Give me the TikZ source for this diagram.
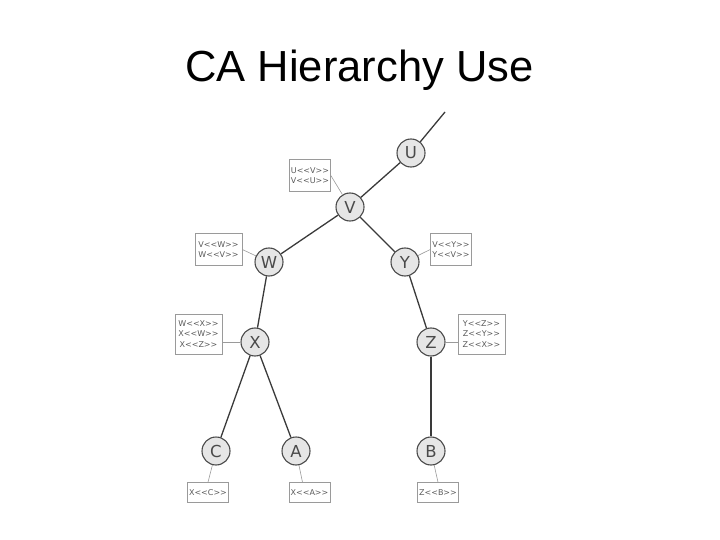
\documentclass[tikz,border=0pt]{standalone}
\usepackage{fontspec}
\setmainfont{Liberation Sans}
\newfontfamily\nodefont{DejaVu Sans}
\begin{document}
\begin{tikzpicture}[x=1pt, y=-1pt]
    \definecolor{edgeColour}{HTML}{3A3A3A}
    \definecolor{caFill}{HTML}{E6E6E6}
    \definecolor{caBorder}{HTML}{4A4A4A}
    \definecolor{boxBorder}{HTML}{9A9A9A}
    \definecolor{boxText}{HTML}{5A5A5A}

    \tikzset{
        ca/.style={circle, draw=caBorder, fill=caFill, line width=1.1pt,
            minimum size=28pt, inner sep=0pt, text=caBorder,
            font=\nodefont\fontsize{16.5}{16.5}\selectfont},
        certbox/.style={draw=boxBorder, line width=0.6pt, align=center,
            inner sep=1pt, text=boxText,
            font=\nodefont\fontsize{8}{10.5}\selectfont},
        link/.style={draw=edgeColour, line width=1.3pt},
        tag/.style={draw=boxBorder, line width=0.6pt}
    }

    \useasboundingbox (0,0) rectangle (720,540);

    % Title
    \node[anchor=base, font=\fontsize{43.5}{43.5}\selectfont] (title) at (359.5,82) {CA Hierarchy Use};

    % CA nodes
    \node[ca] (U) at (411,153) {U};
    \node[ca] (V) at (350,207) {V};
    \node[ca] (W) at (269,262) {W};
    \node[ca] (Y) at (405,262) {Y};
    \node[ca] (X) at (255,342) {X};
    \node[ca] (Z) at (431,342) {Z};
    \node[ca] (C) at (216,451) {C};
    \node[ca] (A) at (296,451) {A};
    \node[ca] (B) at (431,451) {B};
    \coordinate (up) at (445,112);

    % Hierarchy links
    \draw[link] (U) -- (up);
    \draw[link] (U) -- (V);
    \draw[link] (V) -- (W);
    \draw[link] (V) -- (Y);
    \draw[link] (W) -- (X);
    \draw[link] (Y) -- (Z);
    \draw[link] (X) -- (C);
    \draw[link] (X) -- (A);
    \draw[link, line width=2pt] (Z) -- (B);

    % Certificates held by each CA
    \node[certbox, minimum width=41pt, minimum height=32pt] (boxUV) at (310,175.5) {U<<V>>\\V<<U>>};
    \node[certbox, minimum width=47pt, minimum height=32pt] (boxVW) at (218.5,249.5) {V<<W>>\\W<<V>>};
    \node[certbox, minimum width=41pt, minimum height=32pt] (boxVY) at (451,249.5) {V<<Y>>\\Y<<V>>};
    \node[certbox, minimum width=47pt, minimum height=40pt] (boxX) at (198.5,334) {W<<X>>\\X<<W>>\\X<<Z>>};
    \node[certbox, minimum width=47pt, minimum height=40pt] (boxZ) at (481.5,334) {Y<<Z>>\\Z<<Y>>\\Z<<X>>};
    \node[certbox, minimum width=41pt, minimum height=20pt] (boxC) at (208,492.5) {X<<C>>};
    \node[certbox, minimum width=41pt, minimum height=20pt] (boxA) at (309.5,492.5) {X<<A>>};
    \node[certbox, minimum width=41pt, minimum height=20pt] (boxB) at (438,492.5) {Z<<B>>};

    % Box pointers
    \draw[tag] (boxUV.east) -- (V);
    \draw[tag] (boxVW.east) -- (W);
    \draw[tag] (Y) -- (boxVY.west);
    \draw[tag] (boxX.east |- X) -- (X);
    \draw[tag] (Z) -- (boxZ.west |- Z);
    \draw[tag] (C) -- (boxC.north);
    \draw[tag] (A) -- ([xshift=-7pt]boxA.north);
    \draw[tag] (B) -- (boxB.north);
\end{tikzpicture}
\end{document}
